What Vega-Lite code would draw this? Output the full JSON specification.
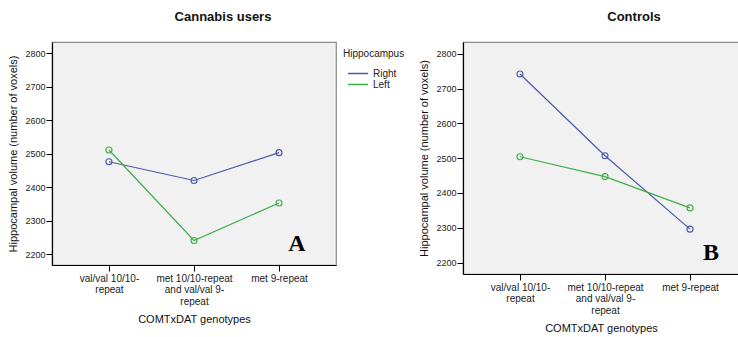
{
  "$schema": "https://vega.github.io/schema/vega-lite/v6.json",
  "padding": {"left": 7, "top": 10, "right": 0, "bottom": 0},
  "background": "white",
  "config": {
    "font": "Liberation Sans",
    "view": {"fill": "#f1f1f1", "stroke": "#8a8a8a", "strokeWidth": 1.2},
    "axis": {
      "grid": false,
      "domainColor": "#000000",
      "domainWidth": 1.2,
      "tickColor": "#000000",
      "tickSize": 6,
      "labelColor": "#222222",
      "labelFont": "Liberation Sans",
      "titleFont": "Liberation Sans",
      "titleFontWeight": "normal",
      "titleColor": "#111111"
    },
    "title": {"font": "Liberation Sans", "fontSize": 13, "fontWeight": "bold", "color": "#111111"},
    "legend": {
      "labelFont": "Liberation Sans",
      "titleFont": "Liberation Sans",
      "titleFontWeight": "normal",
      "titleFontSize": 10,
      "labelFontSize": 10,
      "titleColor": "#222222",
      "labelColor": "#222222"
    }
  },
  "datasets": {
    "volumes": [
      {"group": "Cannabis users", "genotype": "val/val 10/10-repeat", "side": "Right", "volume": 2476},
      {"group": "Cannabis users", "genotype": "met 10/10-repeat and val/val 9-repeat", "side": "Right", "volume": 2420},
      {"group": "Cannabis users", "genotype": "met 9-repeat", "side": "Right", "volume": 2503},
      {"group": "Cannabis users", "genotype": "val/val 10/10-repeat", "side": "Left", "volume": 2511},
      {"group": "Cannabis users", "genotype": "met 10/10-repeat and val/val 9-repeat", "side": "Left", "volume": 2241},
      {"group": "Cannabis users", "genotype": "met 9-repeat", "side": "Left", "volume": 2353},
      {"group": "Controls", "genotype": "val/val 10/10-repeat", "side": "Right", "volume": 2742},
      {"group": "Controls", "genotype": "met 10/10-repeat and val/val 9-repeat", "side": "Right", "volume": 2507},
      {"group": "Controls", "genotype": "met 9-repeat", "side": "Right", "volume": 2296},
      {"group": "Controls", "genotype": "val/val 10/10-repeat", "side": "Left", "volume": 2504},
      {"group": "Controls", "genotype": "met 10/10-repeat and val/val 9-repeat", "side": "Left", "volume": 2447},
      {"group": "Controls", "genotype": "met 9-repeat", "side": "Left", "volume": 2357}
    ]
  },
  "resolve": {"scale": {"x": "independent", "y": "independent"}, "legend": {"color": "independent"}},
  "spacing": 5,
  "hconcat": [
    {
      "width": 284,
      "height": 223,
      "data": {"name": "volumes"},
      "transform": [{"filter": "datum.group == 'Cannabis users'"}],
      "title": {"text": "Cannabis users", "dx": 29, "offset": 18},
      "encoding": {
        "x": {
          "field": "genotype",
          "type": "nominal",
          "sort": ["val/val 10/10-repeat", "met 10/10-repeat and val/val 9-repeat", "met 9-repeat"],
          "scale": {"type": "point", "padding": 0.67},
          "axis": {
            "title": "COMTxDAT genotypes",
            "titleFontSize": 11,
            "titlePadding": 7,
            "labelFontSize": 10,
            "labelAngle": 0,
            "labelPadding": 2,
            "labelLineHeight": 11.5,
            "labelExpr": "datum.value == 'val/val 10/10-repeat' ? ['val/val 10/10-', 'repeat'] : datum.value == 'met 10/10-repeat and val/val 9-repeat' ? ['met 10/10-repeat', 'and val/val 9-', 'repeat'] : datum.value"
          }
        },
        "y": {
          "field": "volume",
          "type": "quantitative",
          "scale": {"domain": [2168, 2833], "nice": false, "zero": false},
          "axis": {
            "title": "Hippocampal volume (number of voxels)",
            "titleFontSize": 11,
            "titlePadding": 6,
            "labelFontSize": 9,
            "labelPadding": 1,
            "format": "d",
            "values": [2200, 2300, 2400, 2500, 2600, 2700, 2800]
          }
        },
        "color": {
          "field": "side",
          "type": "nominal",
          "title": "Hippocampus",
          "scale": {"domain": ["Right", "Left"], "range": ["#4a5aab", "#3fae49"]},
          "legend": {"orient": "right", "offset": 0, "padding": 7, "symbolType": "stroke", "symbolSize": 400, "symbolStrokeWidth": 1.5, "symbolOffset": 4, "labelOffset": 4, "clipHeight": 11, "rowPadding": 0, "titlePadding": 9}
        }
      },
      "layer": [
        {"mark": {"type": "line", "strokeWidth": 1.2}},
        {"mark": {"type": "point", "filled": false, "size": 36, "strokeWidth": 1.1, "opacity": 1}},
        {
          "transform": [{"filter": "datum.genotype == 'met 9-repeat' && datum.side == 'Right'"}],
          "mark": {"type": "text", "font": "Liberation Serif", "fontSize": 24, "fontWeight": "bold", "baseline": "alphabetic", "align": "center", "dx": 18},
          "encoding": {
            "y": {"datum": 2210, "type": "quantitative"},
            "text": {"value": "A"},
            "color": {"value": "#000000"}
          }
        }
      ]
    },
    {
      "width": 276,
      "height": 232,
      "data": {"name": "volumes"},
      "transform": [{"filter": "datum.group == 'Controls'"}],
      "title": {"text": "Controls", "dx": 33, "offset": 18},
      "encoding": {
        "x": {
          "field": "genotype",
          "type": "nominal",
          "sort": ["val/val 10/10-repeat", "met 10/10-repeat and val/val 9-repeat", "met 9-repeat"],
          "scale": {"type": "point", "padding": 0.6235, "align": 0.5377},
          "axis": {
            "title": "COMTxDAT genotypes",
            "titleFontSize": 11,
            "titlePadding": 7,
            "labelFontSize": 10,
            "labelAngle": 0,
            "labelPadding": 2,
            "labelLineHeight": 11.5,
            "labelExpr": "datum.value == 'val/val 10/10-repeat' ? ['val/val 10/10-', 'repeat'] : datum.value == 'met 10/10-repeat and val/val 9-repeat' ? ['met 10/10-repeat', 'and val/val 9-', 'repeat'] : datum.value"
          }
        },
        "y": {
          "field": "volume",
          "type": "quantitative",
          "scale": {"domain": [2167, 2834], "nice": false, "zero": false},
          "axis": {
            "title": "Hippocampal volume (number of voxels)",
            "titleFontSize": 11,
            "titlePadding": 6,
            "labelFontSize": 9,
            "labelPadding": 1,
            "format": "d",
            "values": [2200, 2300, 2400, 2500, 2600, 2700, 2800]
          }
        },
        "color": {
          "field": "side",
          "type": "nominal",
          "scale": {"domain": ["Right", "Left"], "range": ["#4a5aab", "#3fae49"]},
          "legend": null
        }
      },
      "layer": [
        {"mark": {"type": "line", "strokeWidth": 1.2}},
        {"mark": {"type": "point", "filled": false, "size": 36, "strokeWidth": 1.1, "opacity": 1}},
        {
          "transform": [{"filter": "datum.genotype == 'met 9-repeat' && datum.side == 'Right'"}],
          "mark": {"type": "text", "font": "Liberation Serif", "fontSize": 24, "fontWeight": "bold", "baseline": "alphabetic", "align": "center", "dx": 21},
          "encoding": {
            "y": {"datum": 2208, "type": "quantitative"},
            "text": {"value": "B"},
            "color": {"value": "#000000"}
          }
        }
      ]
    }
  ]
}
